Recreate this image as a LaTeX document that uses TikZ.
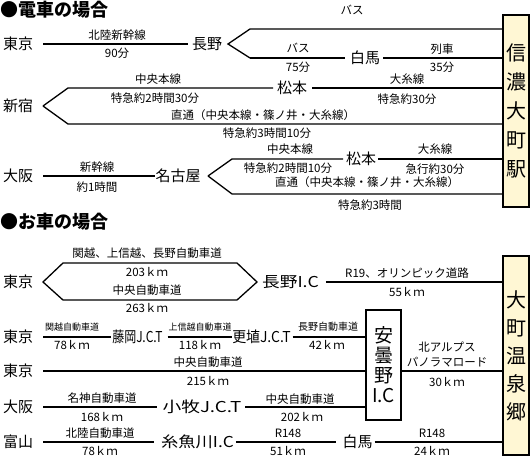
\documentclass[tikz,border=0pt]{standalone}
\usepackage{fontspec}
\setmainfont{Noto Sans CJK JP}
\usepackage{graphicx}
\definecolor{boxfill}{RGB}{255,247,212}
\begin{document}
\begin{tikzpicture}[x=1pt,y=-1pt,
  st/.style={inner sep=0pt,outer sep=0pt,font=\fontsize{15}{15}\selectfont},
  lb/.style={inner sep=0pt,outer sep=0pt,font=\fontsize{11.5}{12}\selectfont},
  lbs/.style={inner sep=0pt,outer sep=0pt,font=\fontsize{9}{9}\selectfont},
  lbm/.style={inner sep=0pt,outer sep=0pt,font=\fontsize{10}{10}\selectfont},
  ttl/.style={anchor=west,inner sep=0pt,font=\fontsize{18}{18}\selectfont\bfseries},
  ln/.style={line width=1.3pt},
  vbox/.style={draw,line width=1.3pt,fill=boxfill,minimum width=26pt,inner sep=0pt,align=center}]
\useasboundingbox[fill=white] (0,0) rectangle (530,460);

% ===== Section 1 =====
\node[ttl] (title1) at (0,10) {●電車の場合};
\node[vbox,minimum height=192pt,font=\fontsize{20}{29}\selectfont] (station) at (516,111) {信\\濃\\大\\町\\駅};

% Row A
\node[st,anchor=west] (tokyoA) at (3,44) {東京};
\node[st] (naganoA) at (207,44) {長野};
\draw[ln,shorten <=10pt,shorten >=4pt] (tokyoA) -- (naganoA);
\node[lb] (lA1) at (117,35) {北陸新幹線};
\node[lb] (lA2) at (117,53) {90分};
\coordinate (A1) at (228,44);
\coordinate (A2) at (250,29);
\coordinate (A3) at (250,58);
\draw[ln] (A2 -| station.west) -- (A2) -- (A1) -- (A3);
\node[st] (hakubaA) at (365,58) {白馬};
\draw[ln,shorten >=5pt] (A3) -- (hakubaA);
\draw[ln,shorten <=3pt] (hakubaA) -- (hakubaA -| station.west);
\node[lb] (lA3) at (352,10) {バス};
\node[lb] (lA4) at (298,48) {バス};
\node[lb] (lA5) at (298,67) {75分};
\node[lb] (lA6) at (442,49) {列車};
\node[lb] (lA7) at (442,67) {35分};

% Row B
\node[st,anchor=west] (shinjuku) at (3,106) {新宿};
\coordinate (B1) at (43,106);
\coordinate (B2) at (68,88);
\coordinate (B3) at (68,124);
\node[st] (matsuB) at (292,88) {松本};
\draw[ln,shorten >=4pt] (B1) -- (B2) -- (matsuB);
\draw[ln,shorten <=5pt] (matsuB) -- (matsuB -| station.west);
\draw[ln] (B1) -- (B3) -- (B3 -| station.west);
\node[lb] (lB1) at (158,79) {中央本線};
\node[lb] (lB2) at (155,98) {特急約2時間30分};
\node[lb] (lB3) at (263,115) {直通（中央本線・篠ノ井・大糸線）};
\node[lb] (lB4) at (267,133) {特急約3時間10分};
\node[lb] (lB5) at (407,79) {大糸線};
\node[lb] (lB6) at (407,99) {特急約30分};

% Row C
\node[st,anchor=west] (osakaC) at (3,176) {大阪};
\node[st] (nagoya) at (178,176) {名古屋};
\draw[ln,shorten <=10pt,shorten >=1pt] (osakaC) -- (nagoya);
\node[lb] (lC1) at (97,167) {新幹線};
\node[lb] (lC2) at (97,187) {約1時間};
\coordinate (C1) at (208,176);
\coordinate (C2) at (232,159);
\coordinate (C3) at (232,194);
\node[st] (matsuC) at (361,159) {松本};
\draw[ln,shorten >=3pt] (C1) -- (C2) -- (matsuC);
\draw[ln,shorten <=2pt] (matsuC) -- (matsuC -| station.west);
\draw[ln] (C1) -- (C3) -- (C3 -| station.west);
\node[lb] (lC3) at (290,149) {中央本線};
\node[lb] (lC4) at (288,168) {特急約2時間10分};
\node[lb] (lC5) at (435,149) {大糸線};
\node[lb] (lC6) at (435,169) {急行約30分};
\node[lb] (lC7) at (367,182) {直通（中央本線・篠ノ井・大糸線）};
\node[lb] (lC8) at (370,205) {特急約3時間};

% ===== Section 2 =====
\node[ttl] (title2) at (0,222) {●お車の場合};
\node[vbox,minimum height=199pt,font=\fontsize{20}{28}\selectfont] (onsen) at (516,355.5) {大\\町\\温\\泉\\郷};
\node[draw,line width=1.3pt,fill=white,minimum width=35pt,minimum height=110pt,inner sep=0pt,align=center,font=\fontsize{19}{20}\selectfont] (azumino) at (383.5,365) {安\\曇\\野\\I.C};

% Row D
\node[st,anchor=west] (tokyoD) at (3,282) {東京};
\coordinate (D1) at (43,282);
\coordinate (D2) at (63,263);
\coordinate (D3) at (237,263);
\coordinate (D4) at (257,282);
\coordinate (D5) at (237,300);
\coordinate (D6) at (63,300);
\draw[ln] (D1) -- (D2) -- (D3) -- (D4) -- (D5) -- (D6) -- cycle;
\node[st] (naganoIC) at (290.5,282) {\scalebox{1.18}[1]{長野I.C}};
\draw[ln,shorten <=7pt] (naganoIC) -- (naganoIC -| onsen.west);
\node[lb] (lD1) at (147,253) {関越、上信越、長野自動車道};
\node[lb] (lD2) at (147,272) {203ｋｍ};
\node[lb] (lD3) at (147,290) {中央自動車道};
\node[lb] (lD4) at (147,308) {263ｋｍ};
\node[lb] (lD5) at (407,273) {R19、オリンピック道路};
\node[lb] (lD6) at (407,292) {55ｋｍ};

% Row E
\node[st,anchor=west] (tokyoE) at (3,337) {東京};
\node[st] (fujioka) at (137.5,337) {\scalebox{0.8}[1]{藤岡J.C.T}};
\node[st] (koshoku) at (261.5,337) {\scalebox{0.93}[1]{更埴J.C.T}};
\draw[ln,shorten <=10pt,shorten >=1pt] (tokyoE) -- (fujioka);
\draw[ln,shorten <=5pt] (fujioka) -- (koshoku);
\draw[ln,shorten <=2pt] (koshoku) -- (koshoku -| azumino.west);
\node[lbs] (lE1) at (72,327) {関越自動車道};
\node[lb] (lE2) at (72,345) {78ｋｍ};
\node[lbs] (lE3) at (200,327) {上信越自動車道};
\node[lb] (lE4) at (200,345) {118ｋｍ};
\node[lbm] (lE5) at (328,327) {長野自動車道};
\node[lb] (lE6) at (327,345) {42ｋｍ};

% Row F
\node[st,anchor=west] (tokyoF) at (3,371) {東京};
\draw[ln,shorten <=10pt] (tokyoF) -- (tokyoF -| azumino.west);
\draw[ln] (tokyoF -| azumino.east) -- (tokyoF -| onsen.west);
\node[lb] (lF1) at (208,362) {中央自動車道};
\node[lb] (lF2) at (208,381) {215ｋｍ};
\node[lb] (lF3) at (447,347) {北アルプス};
\node[lb] (lF4) at (447,362) {パノラマロード};
\node[lb] (lF5) at (447,382) {30ｋｍ};

% Row G
\node[st,anchor=west] (osakaG) at (3,407) {大阪};
\node[st] (komaki) at (202,407) {\scalebox{1.25}[1]{小牧J.C.T}};
\draw[ln,shorten <=10pt,shorten >=6pt] (osakaG) -- (komaki);
\draw[ln,shorten <=4pt] (komaki) -- (komaki -| azumino.west);
\node[lb] (lG1) at (102,398) {名神自動車道};
\node[lb] (lG2) at (102,417) {168ｋｍ};
\node[lb] (lG3) at (300,399) {中央自動車道};
\node[lb] (lG4) at (302,417) {202ｋｍ};

% Row H
\node[st,anchor=west] (toyama) at (3,442) {富山};
\node[st] (itoigawa) at (197.5,442) {\scalebox{1.15}[1]{糸魚川I.C}};
\node[st] (hakubaH) at (357.5,442) {白馬};
\draw[ln,shorten <=10pt,shorten >=7pt] (toyama) -- (itoigawa);
\draw[ln,shorten <=2pt,shorten >=7pt] (itoigawa) -- (hakubaH);
\draw[ln,shorten <=2pt] (hakubaH) -- (hakubaH -| onsen.west);
\node[lb] (lH1) at (100,433) {北陸自動車道};
\node[lb] (lH2) at (100,451) {78ｋｍ};
\node[lb] (lH3) at (288,433) {R148};
\node[lb] (lH4) at (288,451) {51ｋｍ};
\node[lb] (lH5) at (432,433) {R148};
\node[lb] (lH6) at (432,451) {24ｋｍ};
\end{tikzpicture}
\end{document}
